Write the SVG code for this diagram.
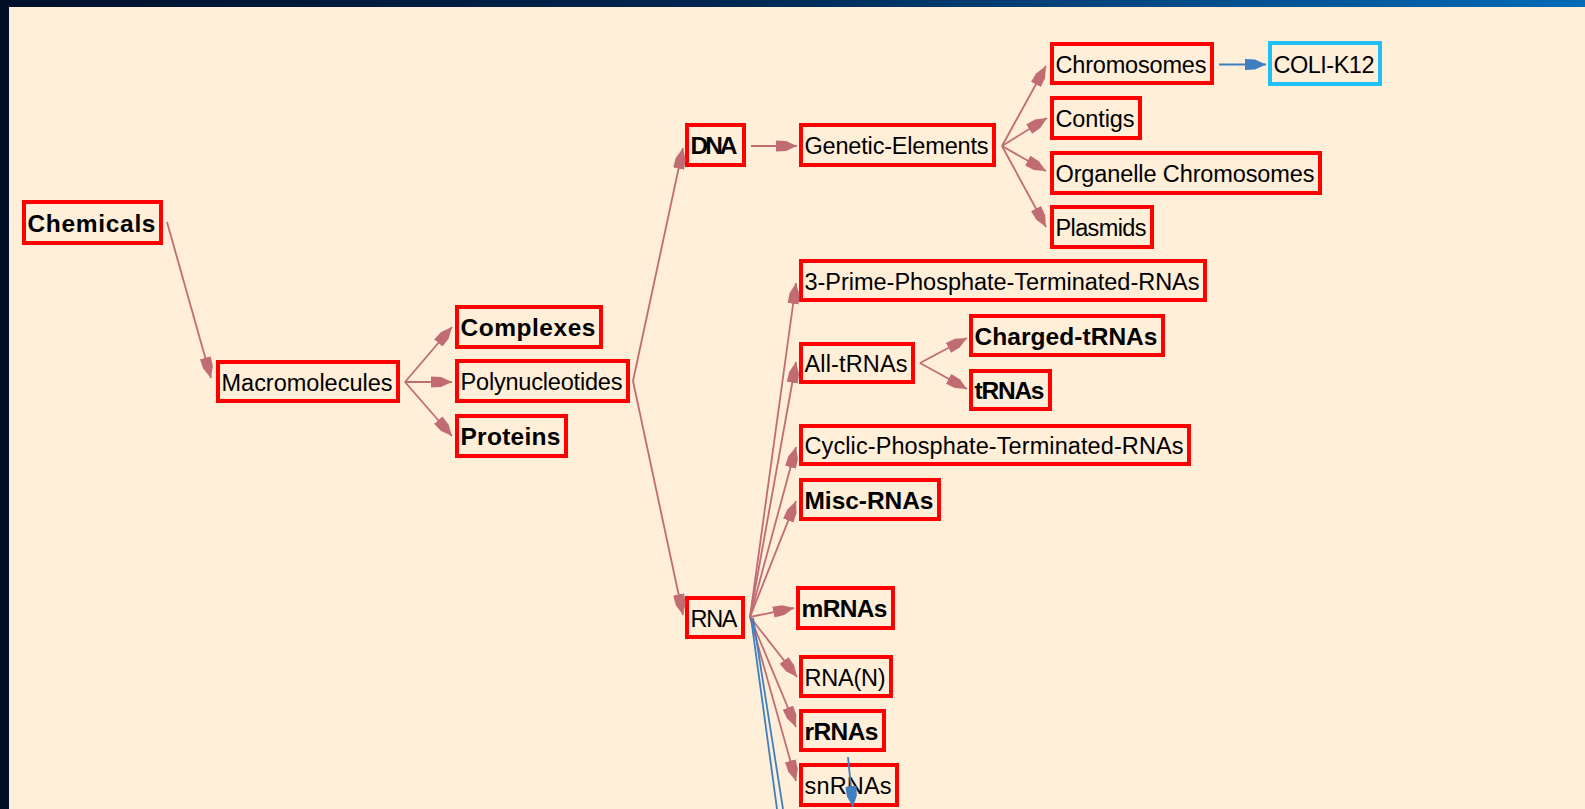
<svg xmlns="http://www.w3.org/2000/svg" width="1585" height="809" viewBox="0 0 1585 809">
<defs>
<linearGradient id="topbar" x1="0" y1="0" x2="1" y2="0">
<stop offset="0" stop-color="#00102a"/>
<stop offset="0.45" stop-color="#002650"/>
<stop offset="1" stop-color="#006bb8"/>
</linearGradient>
<marker id="ar" markerUnits="userSpaceOnUse" markerWidth="24" markerHeight="14" viewBox="0 -7 24 14" refX="21" refY="0" orient="auto">
<path d="M0,-5.5 L10,-5 L21,0 L10,5 L0,5.5 Z" fill="#c06c72"/>
</marker>
<marker id="ab" markerUnits="userSpaceOnUse" markerWidth="24" markerHeight="14" viewBox="0 -7 24 14" refX="21" refY="0" orient="auto">
<path d="M0,-5.5 L10,-5 L21,0 L10,5 L0,5.5 Z" fill="#3f7fc0"/>
</marker>
<style>
.node rect{fill:none;stroke:#ff0000;stroke-width:4}
.node.cyan rect{stroke:#1ec0f5}
.node text{font-family:"Liberation Sans",Arial,sans-serif;font-size:23.5px;fill:#000}
.node text.b{font-weight:bold;font-size:24.5px}
.edge{stroke:#c06c72;stroke-width:1.8;fill:none;marker-end:url(#ar)}
.edgeb{stroke:#3f7fc0;stroke-width:1.8;fill:none}
.edgeb.m{marker-end:url(#ab)}
</style>
</defs>
<rect x="0" y="0" width="1585" height="809" fill="#ffeed8"/>
<rect x="0" y="0" width="1585" height="7" fill="url(#topbar)"/>
<rect x="0" y="0" width="9" height="809" fill="#000f26"/>

<g id="nodes">
<g id="n-chemicals" class="node"><rect x="24" y="202" width="137" height="41"/><text class="b" x="27.5" y="231.5" textLength="128">Chemicals</text></g>
<g id="n-macromolecules" class="node"><rect x="218" y="362" width="180" height="39"/><text x="221.5" y="390.5" textLength="171">Macromolecules</text></g>
<g id="n-complexes" class="node"><rect x="457" y="307" width="144" height="40"/><text class="b" x="460.5" y="336" textLength="135">Complexes</text></g>
<g id="n-polynucleotides" class="node"><rect x="457" y="361" width="171" height="40"/><text x="460.5" y="390" textLength="162">Polynucleotides</text></g>
<g id="n-proteins" class="node"><rect x="457" y="416" width="109" height="40"/><text class="b" x="460.5" y="445" textLength="100">Proteins</text></g>
<g id="n-dna" class="node"><rect x="687" y="125" width="57" height="40"/><text class="b" x="690.5" y="154" textLength="47">DNA</text></g>
<g id="n-genetic-elements" class="node"><rect x="801" y="125" width="193" height="40"/><text x="804.5" y="154" textLength="184">Genetic-Elements</text></g>
<g id="n-chromosomes" class="node"><rect x="1052" y="44" width="160" height="39"/><text x="1055.5" y="72.5" textLength="151">Chromosomes</text></g>
<g id="n-coli-k12" class="node cyan"><rect x="1270" y="43" width="110" height="41"/><text x="1273.5" y="72.5" textLength="101">COLI-K12</text></g>
<g id="n-contigs" class="node"><rect x="1052" y="98" width="88" height="40"/><text x="1055.5" y="127" textLength="79">Contigs</text></g>
<g id="n-organelle-chromosomes" class="node"><rect x="1052" y="153" width="268" height="40"/><text x="1055.5" y="182" textLength="259">Organelle Chromosomes</text></g>
<g id="n-plasmids" class="node"><rect x="1052" y="207" width="100" height="40"/><text x="1055.5" y="236" textLength="91">Plasmids</text></g>
<g id="n-3prime" class="node"><rect x="801" y="261" width="404" height="39"/><text x="804.5" y="289.5" textLength="395">3-Prime-Phosphate-Terminated-RNAs</text></g>
<g id="n-all-trnas" class="node"><rect x="801" y="344" width="112" height="38"/><text x="804.5" y="372" textLength="103">All-tRNAs</text></g>
<g id="n-charged-trnas" class="node"><rect x="971" y="316" width="192" height="39"/><text class="b" x="974.5" y="344.5" textLength="183">Charged-tRNAs</text></g>
<g id="n-trnas" class="node"><rect x="971" y="371" width="79" height="38"/><text class="b" x="974.5" y="399" textLength="70">tRNAs</text></g>
<g id="n-cyclic" class="node"><rect x="801" y="426" width="388" height="38"/><text x="804.5" y="454" textLength="379">Cyclic-Phosphate-Terminated-RNAs</text></g>
<g id="n-misc-rnas" class="node"><rect x="801" y="480" width="138" height="39"/><text class="b" x="804.5" y="508.5" textLength="129">Misc-RNAs</text></g>
<g id="n-rna" class="node"><rect x="687" y="598" width="56" height="39"/><text x="690.5" y="626.5" textLength="47">RNA</text></g>
<g id="n-mrnas" class="node"><rect x="798" y="588" width="95" height="40"/><text class="b" x="801.5" y="617" textLength="86">mRNAs</text></g>
<g id="n-rna-n" class="node"><rect x="801" y="657" width="90" height="39"/><text x="804.5" y="685.5" textLength="81">RNA(N)</text></g>
<g id="n-rrnas" class="node"><rect x="801" y="711" width="83" height="39"/><text class="b" x="804.5" y="739.5" textLength="74">rRNAs</text></g>
<g id="n-snrnas" class="node"><rect x="801" y="765" width="96" height="40"/><text x="804.5" y="794" textLength="87">snRNAs</text></g>
</g>

<g id="connectors">
<line class="edge" x1="167" y1="222" x2="211" y2="378"/>
<line class="edge" x1="405" y1="382" x2="452" y2="327"/>
<line class="edge" x1="405" y1="382" x2="452" y2="382"/>
<line class="edge" x1="405" y1="382" x2="452" y2="436"/>
<line class="edge" x1="633" y1="381" x2="683" y2="148"/>
<line class="edge" x1="633" y1="381" x2="683" y2="615"/>
<line class="edge" x1="751" y1="146" x2="797" y2="146"/>
<line class="edge" x1="1002" y1="146" x2="1046" y2="66"/>
<line class="edge" x1="1002" y1="146" x2="1047" y2="118"/>
<line class="edge" x1="1002" y1="146" x2="1046" y2="171"/>
<line class="edge" x1="1002" y1="146" x2="1046" y2="227"/>
<line class="edgeb m" x1="1219" y1="64.5" x2="1266" y2="64.5"/>
<line class="edge" x1="750" y1="617" x2="796" y2="283"/>
<line class="edge" x1="750" y1="617" x2="796" y2="362"/>
<line class="edge" x1="750" y1="617" x2="796" y2="447"/>
<line class="edge" x1="750" y1="617" x2="796" y2="501"/>
<line class="edge" x1="750" y1="617" x2="794" y2="608"/>
<line class="edge" x1="750" y1="617" x2="797" y2="677"/>
<line class="edge" x1="750" y1="617" x2="796" y2="727"/>
<line class="edge" x1="750" y1="617" x2="796" y2="781"/>
<line class="edge" x1="920" y1="363" x2="967" y2="338"/>
<line class="edge" x1="920" y1="363" x2="967" y2="389"/>
<line class="edgeb" x1="751" y1="618" x2="777" y2="809"/>
<line class="edgeb" x1="753" y1="618" x2="783" y2="809"/>
<line class="edgeb m" x1="848" y1="757" x2="853" y2="807"/>
</g>
</svg>
